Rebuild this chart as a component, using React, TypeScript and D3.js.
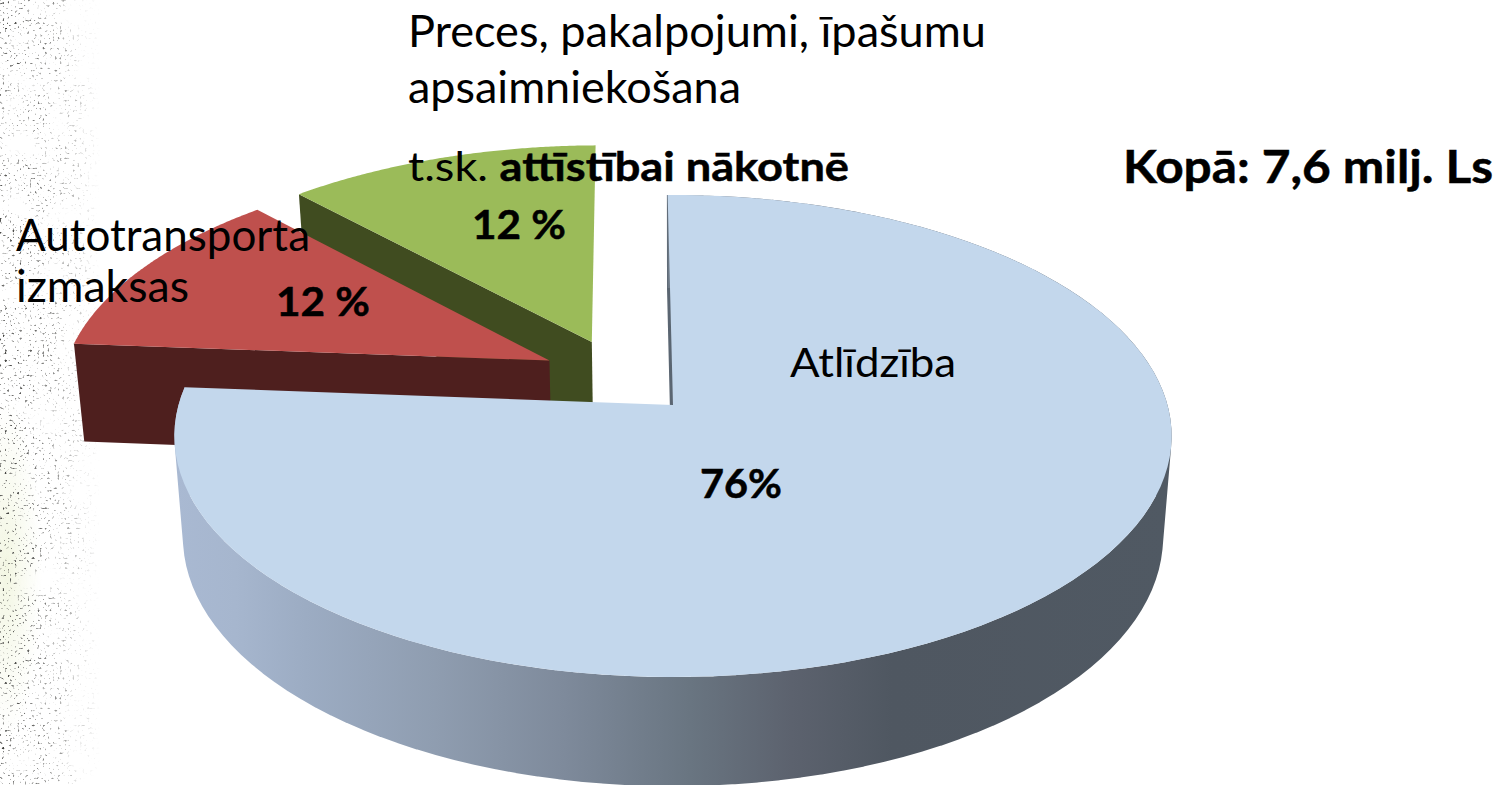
import React from "react";
import * as d3 from "d3";

const categories = ["Atlīdzība", "Autotransporta izmaksas", "Preces, pakalpojumi, īpašumu apsaimniekošana"];
const shareValues = [76.4, 11.8, 11.8];
const topColors = ["#c3d7ec", "#bf504d", "#9bbb59"];
const wallColors = ["url(#wall)", "#4e1f1e", "#404c20"];
const gradientStops: [number, string][] = [
  [0, "#a9b9d2"], [0.06, "#a6b6ce"], [0.13, "#9cacc3"], [0.26, "#8f9db0"], [0.39, "#7e8a9b"],
  [0.516, "#697581"], [0.618, "#5c626e"], [0.72, "#4f5761"], [1, "#505963"],
];

// Layout of the 3D projection (unit circle onto the picture plane).
const K = 0.1287;
const TOP = { x0: 673, y0: 405, a: 494.5, b: 237 };
const BOTTOM = { x0: 673, y0: 505, a: 486, b: 245 };
const EXPLODE: [number, number][] = [[0, 0], [-0.256, -0.192], [-0.17, -0.2754]];
const START = (-0.7 * Math.PI) / 180;

type Plane = typeof TOP;
const project = (p: Plane, angle: number, r: number, off: [number, number]): [number, number] => {
  const u = r * Math.sin(angle) + off[0];
  const v = -r * Math.cos(angle) + off[1];
  const w = 1 - K * v;
  return [p.x0 + (p.a * u) / w, p.y0 + (p.b * v) / w];
};

const arcs = d3.pie<number>().sort(null).startAngle(START).endAngle(START + 2 * Math.PI)(shareValues);
const line = d3.line<[number, number]>();
const sample = (a0: number, a1: number) => d3.range(0, 121).map((i) => a0 + ((a1 - a0) * i) / 120);

function topFace(i: number) {
  const s = arcs[i];
  const pts = sample(s.startAngle, s.endAngle).map((a) => project(TOP, a, 1, EXPLODE[i]));
  return line([project(TOP, 0, 0, EXPLODE[i]), ...pts]) + "Z";
}
// the wall under the radial edge that runs along a slice's end angle
function radialWall(i: number, angle: number) {
  const o = EXPLODE[i];
  return line([
    project(TOP, angle, 0, o), project(TOP, angle, 1, o),
    project(BOTTOM, angle, 1, o), project(BOTTOM, angle, 0, o),
  ]) + "Z";
}
// outer curved wall as a union of small quads, so the silhouette is exact
function curvedWall(i: number) {
  const s = arcs[i];
  const as = sample(s.startAngle, s.endAngle);
  const o = EXPLODE[i];
  let d = "";
  for (let k = 0; k < as.length - 1; k++) {
    const a = as[k], b = as[k + 1] + 0.002;
    const q: [number, number][] = [project(TOP, a, 1, o), project(TOP, b, 1, o), project(BOTTOM, b, 1, o), project(BOTTOM, a, 1, o)];
    const area = d3.polygonArea(q);
    d += line(area >= 0 ? q : q.slice().reverse()) + "Z";
  }
  return d;
}

const FONT = "Lato, Carlito, Calibri, sans-serif";
type Lbl = { t: React.ReactNode; x: number; y: number; w: number; s: number; b?: boolean };
const labels: Lbl[] = [
  { t: "Preces, pakalpojumi, īpašumu", x: 408, y: 47, w: 578, s: 44 },
  { t: "apsaimniekošana", x: 408, y: 103, w: 333, s: 44 },
  { t: "Autotransporta", x: 16, y: 251, w: 294, s: 44 },
  { t: "izmaksas", x: 16, y: 302, w: 173, s: 44 },
  { t: "12 %", x: 472, y: 239, w: 94, s: 41, b: true },
  { t: "12 %", x: 276, y: 316, w: 94, s: 41, b: true },
  { t: "Atlīdzība", x: 790, y: 377, w: 166, s: 41 },
  { t: "76%", x: 700, y: 498, w: 82, s: 41, b: true },
  { t: "Kopā: 7,6 milj. Ls", x: 1123, y: 183, w: 370, s: 46, b: true },
];

export default function App() {
  const sliver = radialWall(0, START);
  return (
    <svg width={1499} height={785} viewBox="0 0 1499 785"
      style={{ position: "fixed", left: 0, top: 0, display: "block", background: "#fff" }}
      fontFamily={FONT}>
      <defs>
        <linearGradient id="wall" gradientUnits="userSpaceOnUse" x1={176} x2={1172} y1={0} y2={0}>
          {gradientStops.map(([o, c]) => <stop key={o} offset={o} stopColor={c} />)}
        </linearGradient>
        <linearGradient id="fade" x1={0} x2={1} y1={0} y2={0}>
          <stop offset={0} stopColor="#fff" stopOpacity={0.95} />
          <stop offset={0.4} stopColor="#fff" stopOpacity={0.7} />
          <stop offset={0.75} stopColor="#fff" stopOpacity={0.32} />
          <stop offset={1} stopColor="#fff" stopOpacity={0} />
        </linearGradient>
        <mask id="fadeMask" maskUnits="userSpaceOnUse" x={0} y={0} width={100} height={785}>
          <rect x={0} y={0} width={100} height={785} fill="url(#fade)" />
        </mask>
        <filter id="speckle" x={0} y={0} width="100%" height="100%" colorInterpolationFilters="sRGB">
          <feTurbulence type="fractalNoise" baseFrequency={0.4} numOctaves={1} seed={11} result="fine" />
          <feColorMatrix in="fine" type="matrix" values="0 0 0 0 0.2  0 0 0 0 0.2  0 0 0 0 0.19  8 0 0 0 -5.0" result="dots" />
          <feGaussianBlur in="dots" stdDeviation={0.7} result="soft" />
          <feTurbulence type="fractalNoise" baseFrequency={0.03} numOctaves={2} seed={4} result="coarse" />
          <feColorMatrix in="coarse" type="matrix" values="0 0 0 0 0  0 0 0 0 0  0 0 0 0 0  3.5 0 0 0 -0.9" result="patch" />
          <feComposite in="soft" in2="patch" operator="in" />
        </filter>
        <radialGradient id="tint" cx={0.1} cy={0.5} r={0.5}>
          <stop offset={0} stopColor="#eef3d8" stopOpacity={0.8} />
          <stop offset={1} stopColor="#eef3d8" stopOpacity={0} />
        </radialGradient>
      </defs>

      <g mask="url(#fadeMask)">
        <rect x={0} y={400} width={70} height={340} fill="url(#tint)" />
        <rect x={0} y={0} width={100} height={785} filter="url(#speckle)" />
      </g>

      {/* green slice */}
      <path d={radialWall(2, arcs[2].startAngle)} fill={wallColors[2]} />
      <path d={topFace(2)} fill={topColors[2]} />
      {/* red slice */}
      <path d={radialWall(1, arcs[1].startAngle)} fill={wallColors[1]} />
      <path d={topFace(1)} fill={topColors[1]} />
      {/* blue slice */}
      <path d={sliver} fill="#5b6672" stroke="#5b6672" strokeWidth={1.5} />
      <path d={curvedWall(0)} fill={wallColors[0]} />
      <path d={topFace(0)} fill={topColors[0]} />

      {labels.map((l, i) => (
        <text key={i} x={l.x} y={l.y} fontSize={l.s} fontWeight={l.b ? 700 : 400} fill="#000"
          stroke={l.b ? "#000" : "none"} strokeWidth={l.b ? 0.5 : 0}
          textLength={l.w} lengthAdjust="spacingAndGlyphs">{l.t}</text>
      ))}
      <text x={408} y={181} fontSize={41} fill="#000" textLength={441} lengthAdjust="spacingAndGlyphs">
        t.sk. <tspan fontWeight={700} stroke="#000" strokeWidth={0.5}>attīstībai nākotnē</tspan>
      </text>
      <title>{categories.join(", ")}</title>
    </svg>
  );
}
